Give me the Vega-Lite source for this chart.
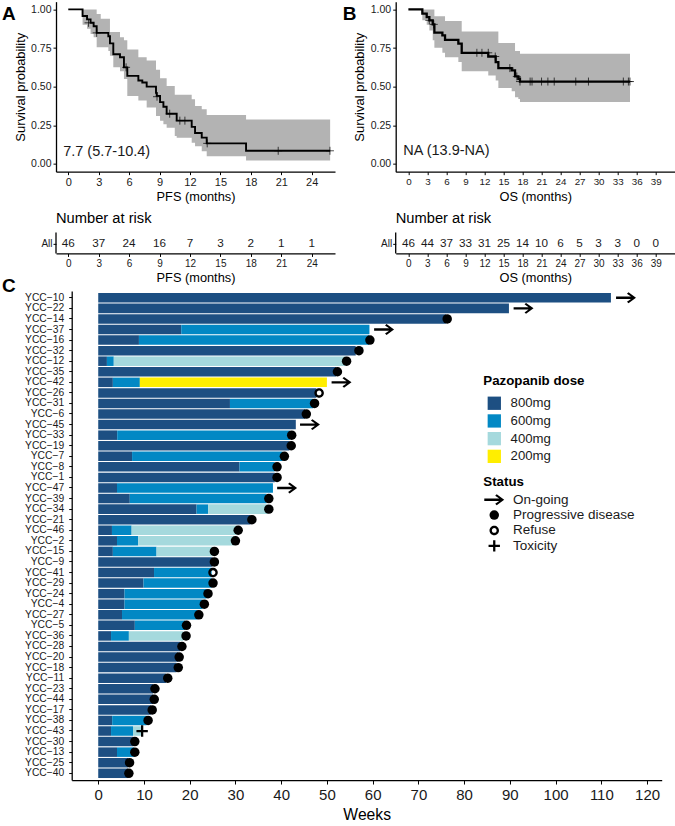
{
  "$schema": "https://vega.github.io/schema/vega-lite/v6.json",
  "padding": {"left": 2, "top": 1.65, "right": 0, "bottom": 0},
  "columns": 2,
  "align": "none",
  "bounds": "flush",
  "spacing": {"column": 60.7, "row": 37.2},
  "config": {
    "font": "Liberation Sans",
    "view": {"stroke": null},
    "axis": {"grid": false, "labelOverlap": false, "tickCount": 100, "domainColor": "black", "domainWidth": 1.3, "tickColor": "black", "tickSize": 3, "tickWidth": 1, "labelColor": "#1a1a1a", "titleColor": "black", "titleFontWeight": "normal", "labelFontSize": 10.5, "titleFontSize": 12.8},
    "title": {"offset": 0, "color": "black"},
    "legend": {"titleFontSize": 13.3, "titleFontWeight": "bold", "labelFontSize": 13.5, "titleColor": "black", "labelColor": "#1a1a1a"}
  },
  "concat": [
    {
      "width": 279,
      "height": 170,
      "title": {"text": "A", "anchor": "start", "frame": "group", "dx": -54, "dy": 26, "fontSize": 19, "fontWeight": "bold"},
      "layer": [
        {
          "data": {"name": "pfs"},
          "mark": {"type": "area", "interpolate": "step-after", "color": "#b3b3b3"},
          "encoding": {
            "x": {"field": "t", "type": "quantitative", "title": "PFS (months)", "scale": {"domain": [-1.21, 26.3], "nice": false, "zero": false}, "axis": {"values": [0, 3, 6, 9, 12, 15, 18, 21, 24], "format": "d", "labelFontSize": 11, "titlePadding": 3}},
            "y": {"field": "lo", "type": "quantitative", "title": "Survival probability", "scale": {"domain": [-0.05, 1.05], "nice": false, "zero": false}, "axis": {"values": [0, 0.25, 0.5, 0.75, 1], "format": ".2f", "titleFontSize": 13, "titlePadding": 3}},
            "y2": {"field": "hi"}
          }
        },
        {
          "data": {"name": "pfs"},
          "mark": {"type": "line", "interpolate": "step-after", "color": "black", "strokeWidth": 1.9},
          "encoding": {"x": {"field": "t", "type": "quantitative"}, "y": {"field": "s", "type": "quantitative"}}
        },
        {
          "data": {"values": [{"t": 2.0, "s": 0.913}, {"t": 2.8, "s": 0.848}, {"t": 5.7, "s": 0.625}, {"t": 8.75, "s": 0.435}, {"t": 10, "s": 0.325}, {"t": 11, "s": 0.28}, {"t": 11.5, "s": 0.28}, {"t": 13.7, "s": 0.133}, {"t": 20.7, "s": 0.085}, {"t": 25.8, "s": 0.085}]},
          "mark": {"type": "point", "shape": "M-1,0H1M0,-1V1", "size": 64, "stroke": "black", "strokeWidth": 1, "fill": null},
          "encoding": {"x": {"field": "t", "type": "quantitative"}, "y": {"field": "s", "type": "quantitative"}}
        },
        {
          "data": {"values": [{"t": -0.5, "s": 0.08, "label": "7.7 (5.7-10.4)"}]},
          "mark": {"type": "text", "align": "left", "baseline": "middle", "fontSize": 14.5, "color": "#1a1a1a"},
          "encoding": {"x": {"field": "t", "type": "quantitative"}, "y": {"field": "s", "type": "quantitative"}, "text": {"field": "label"}}
        }
      ]
    },
    {
      "width": 279,
      "height": 170,
      "title": {"text": "B", "anchor": "start", "frame": "group", "dx": -53, "dy": 26, "fontSize": 19, "fontWeight": "bold"},
      "layer": [
        {
          "data": {"name": "os"},
          "mark": {"type": "area", "interpolate": "step-after", "color": "#b3b3b3"},
          "encoding": {
            "x": {"field": "t", "type": "quantitative", "title": "OS (months)", "scale": {"domain": [-2, 42], "nice": false, "zero": false}, "axis": {"values": [0, 3, 6, 9, 12, 15, 18, 21, 24, 27, 30, 33, 36, 39], "format": "d", "labelFontSize": 9.8, "titlePadding": 4}},
            "y": {"field": "lo", "type": "quantitative", "title": "Survival probability", "scale": {"domain": [-0.05, 1.05], "nice": false, "zero": false}, "axis": {"values": [0, 0.25, 0.5, 0.75, 1], "format": ".2f", "titleFontSize": 13, "titlePadding": 4}},
            "y2": {"field": "hi"}
          }
        },
        {
          "data": {"name": "os"},
          "mark": {"type": "line", "interpolate": "step-after", "color": "black", "strokeWidth": 2.3},
          "encoding": {"x": {"field": "t", "type": "quantitative"}, "y": {"field": "s", "type": "quantitative"}}
        },
        {
          "data": {"values": [{"t": 3.3, "s": 0.929}, {"t": 4.0, "s": 0.903}, {"t": 10.8, "s": 0.719}, {"t": 11.6, "s": 0.719}, {"t": 12.6, "s": 0.719}, {"t": 13.7, "s": 0.695}, {"t": 16, "s": 0.62}, {"t": 17.1, "s": 0.566}, {"t": 17.6, "s": 0.533}, {"t": 19.2, "s": 0.533}, {"t": 19.5, "s": 0.533}, {"t": 21, "s": 0.533}, {"t": 22, "s": 0.533}, {"t": 23, "s": 0.533}, {"t": 26.4, "s": 0.533}, {"t": 28.4, "s": 0.533}, {"t": 33.9, "s": 0.533}, {"t": 34.7, "s": 0.533}, {"t": 34.95, "s": 0.533}]},
          "mark": {"type": "point", "shape": "M-1,0H1M0,-1V1", "size": 64, "stroke": "black", "strokeWidth": 1, "fill": null},
          "encoding": {"x": {"field": "t", "type": "quantitative"}, "y": {"field": "s", "type": "quantitative"}}
        },
        {
          "data": {"values": [{"t": -0.79, "s": 0.086, "label": "NA (13.9-NA)"}]},
          "mark": {"type": "text", "align": "left", "baseline": "middle", "fontSize": 14.5, "color": "#1a1a1a"},
          "encoding": {"x": {"field": "t", "type": "quantitative"}, "y": {"field": "s", "type": "quantitative"}, "text": {"field": "label"}}
        }
      ]
    },
    {
      "width": 279,
      "height": 44.6,
      "title": {"text": "Number at risk", "anchor": "start", "frame": "group", "fontSize": 14.7, "fontWeight": "normal", "dy": 21},
      "layer": [
        {
          "data": {"values": [{"t": 0, "n": 46}, {"t": 3, "n": 37}, {"t": 6, "n": 24}, {"t": 9, "n": 16}, {"t": 12, "n": 7}, {"t": 15, "n": 3}, {"t": 18, "n": 2}, {"t": 21, "n": 1}, {"t": 24, "n": 1}]},
          "mark": {"type": "text", "fontSize": 11.7, "baseline": "middle", "color": "#1a1a1a"},
          "encoding": {
            "x": {"field": "t", "type": "quantitative", "title": "PFS (months)", "scale": {"domain": [-1.21, 26.3], "nice": false, "zero": false}, "axis": {"values": [0, 3, 6, 9, 12, 15, 18, 21, 24], "format": "d", "labelFontSize": 10, "titlePadding": 3}},
            "y": {"datum": 10, "type": "quantitative", "title": null, "scale": {"domain": [0, 44.6], "nice": false, "zero": false}, "axis": {"values": [10], "labelExpr": "'All'", "domain": false, "labelFontSize": 10, "labelPadding": 1}},
            "text": {"field": "n"}
          }
        },
        {
          "data": {"values": [{"t": -1.21, "y0": 0, "y1": 21}]},
          "mark": {"type": "rule", "color": "black", "strokeWidth": 1.3},
          "encoding": {"x": {"field": "t", "type": "quantitative"}, "y": {"field": "y0", "type": "quantitative", "title": null}, "y2": {"field": "y1"}}
        }
      ]
    },
    {
      "width": 279,
      "height": 44.6,
      "title": {"text": "Number at risk", "anchor": "start", "frame": "group", "fontSize": 14.7, "fontWeight": "normal", "dy": 21},
      "layer": [
        {
          "data": {"values": [{"t": 0, "n": 46}, {"t": 3, "n": 44}, {"t": 6, "n": 37}, {"t": 9, "n": 33}, {"t": 12, "n": 31}, {"t": 15, "n": 25}, {"t": 18, "n": 14}, {"t": 21, "n": 10}, {"t": 24, "n": 6}, {"t": 27, "n": 5}, {"t": 30, "n": 3}, {"t": 33, "n": 3}, {"t": 36, "n": 0}, {"t": 39, "n": 0}]},
          "mark": {"type": "text", "fontSize": 11.7, "baseline": "middle", "color": "#1a1a1a"},
          "encoding": {
            "x": {"field": "t", "type": "quantitative", "title": "OS (months)", "scale": {"domain": [-2, 42], "nice": false, "zero": false}, "axis": {"values": [0, 3, 6, 9, 12, 15, 18, 21, 24, 27, 30, 33, 36, 39], "format": "d", "labelFontSize": 10, "titlePadding": 3}},
            "y": {"datum": 10, "type": "quantitative", "title": null, "scale": {"domain": [0, 44.6], "nice": false, "zero": false}, "axis": {"values": [10], "labelExpr": "'All'", "domain": false, "labelFontSize": 10, "labelPadding": 1}},
            "text": {"field": "n"}
          }
        },
        {
          "data": {"values": [{"t": -2, "y0": 0, "y1": 21}]},
          "mark": {"type": "rule", "color": "black", "strokeWidth": 1.3},
          "encoding": {"x": {"field": "t", "type": "quantitative"}, "y": {"field": "y0", "type": "quantitative", "title": null}, "y2": {"field": "y1"}}
        }
      ]
    },
    {
      "width": 279,
      "height": 489,
      "title": {"text": "C", "anchor": "start", "frame": "group", "dx": -54, "dy": 9, "fontSize": 19, "fontWeight": "bold"},
      "encoding": {
        "y": {
          "field": "id",
          "type": "nominal",
          "title": null,
          "scale": {
            "domain": ["YCC−10", "YCC−22", "YCC−14", "YCC−37", "YCC−16", "YCC−32", "YCC−12", "YCC−35", "YCC−42", "YCC−26", "YCC−31", "YCC−6", "YCC−45", "YCC−33", "YCC−19", "YCC−7", "YCC−8", "YCC−1", "YCC−47", "YCC−39", "YCC−34", "YCC−21", "YCC−46", "YCC−2", "YCC−15", "YCC−9", "YCC−41", "YCC−29", "YCC−24", "YCC−4", "YCC−27", "YCC−5", "YCC−36", "YCC−28", "YCC−20", "YCC−18", "YCC−11", "YCC−23", "YCC−44", "YCC−17", "YCC−38", "YCC−43", "YCC−30", "YCC−13", "YCC−25", "YCC−40"],
            "paddingInner": 0.1,
            "paddingOuter": 0.19
          },
          "axis": {"labelFontSize": 10.3, "labelPadding": 5, "offset": -15.7}
        }
      },
      "layer": [
        {
          "data": {"name": "bars"},
          "mark": {"type": "bar"},
          "encoding": {
            "x": {"field": "start", "type": "quantitative", "title": "Weeks", "scale": {"domain": [-5.8, 123.2], "nice": false, "zero": false, "range": [15.7, 605.7]}, "axis": {"values": [0, 10, 20, 30, 40, 50, 60, 70, 80, 90, 100, 110, 120], "format": "d", "labelFontSize": 15, "titleFontSize": 15.7, "tickSize": 4, "labelPadding": 3, "titlePadding": 5}},
            "x2": {"field": "end"},
            "color": {
              "field": "dose",
              "type": "nominal",
              "scale": {"domain": ["800mg", "600mg", "400mg", "200mg"], "range": ["#1d4f82", "#0288c4", "#a5d9dd", "#ffee00"]},
              "legend": {"orient": "none", "legendX": 427.3, "legendY": 372.7, "title": "Pazopanib dose", "symbolType": "square", "symbolSize": 177, "symbolOpacity": 1, "symbolStrokeWidth": 0, "symbolOffset": 4, "labelOffset": 9.3, "rowPadding": 3.7, "titlePadding": 8.6, "labelFontSize": 13.2}
            }
          }
        },
        {
          "data": {"name": "ends"},
          "mark": {"type": "point", "filled": true, "color": "black", "size": 90, "opacity": 1},
          "encoding": {
            "x": {"field": "week", "type": "quantitative"},
            "shape": {
              "field": "status",
              "type": "nominal",
              "scale": {
                "domain": ["On-going", "Progressive disease", "Refuse", "Toxicity"],
                "range": [
                  "M-2.1,-0.25H1.05L0.2,-0.85L0.52,-1.15L2.1,0L0.52,1.15L0.2,0.85L1.05,0.25H-2.1Z",
                  "circle",
                  "M-1,0A1,1 0 1,1 1,0A1,1 0 1,1 -1,0ZM-0.5,0A0.5,0.5 0 1,0 0.5,0A0.5,0.5 0 1,0 -0.5,0Z",
                  "M-0.24,-1.2H0.24V-0.24H1.2V0.24H0.24V1.2H-0.24V0.24H-1.2V-0.24H-0.24Z"
                ]
              },
              "legend": {"orient": "none", "legendX": 427.3, "legendY": 473, "title": "Status", "symbolSize": 90, "symbolFillColor": "black", "symbolStrokeWidth": 0, "symbolOpacity": 1, "symbolOffset": 4.2, "labelOffset": 12, "rowPadding": 0.4, "titlePadding": 5}
            }
          }
        }
      ]
    }
  ],
  "datasets": {
    "pfs": [
      {"t": 0, "s": 1, "lo": 1, "hi": 1},
      {"t": 1.41, "s": 0.957, "lo": 0.9, "hi": 1},
      {"t": 1.85, "s": 0.935, "lo": 0.875, "hi": 1},
      {"t": 2.2, "s": 0.913, "lo": 0.84, "hi": 1},
      {"t": 2.5, "s": 0.891, "lo": 0.82, "hi": 1},
      {"t": 2.8, "s": 0.848, "lo": 0.755, "hi": 0.97},
      {"t": 3.2, "s": 0.848, "lo": 0.755, "hi": 0.94},
      {"t": 3.95, "s": 0.826, "lo": 0.73, "hi": 0.94},
      {"t": 4.11, "s": 0.78, "lo": 0.7, "hi": 0.853},
      {"t": 4.44, "s": 0.71, "lo": 0.625, "hi": 0.853},
      {"t": 5.1, "s": 0.69, "lo": 0.6, "hi": 0.82},
      {"t": 5.49, "s": 0.625, "lo": 0.55, "hi": 0.8},
      {"t": 5.82, "s": 0.57, "lo": 0.44, "hi": 0.74},
      {"t": 6.91, "s": 0.54, "lo": 0.41, "hi": 0.69},
      {"t": 7.3, "s": 0.527, "lo": 0.41, "hi": 0.69},
      {"t": 7.73, "s": 0.5, "lo": 0.365, "hi": 0.67},
      {"t": 8.65, "s": 0.46, "lo": 0.31, "hi": 0.61},
      {"t": 8.72, "s": 0.44, "lo": 0.31, "hi": 0.61},
      {"t": 9.05, "s": 0.4, "lo": 0.28, "hi": 0.555},
      {"t": 9.38, "s": 0.37, "lo": 0.256, "hi": 0.555},
      {"t": 9.7, "s": 0.325, "lo": 0.234, "hi": 0.505},
      {"t": 10.5, "s": 0.325, "lo": 0.18, "hi": 0.447},
      {"t": 10.69, "s": 0.28, "lo": 0.17, "hi": 0.447},
      {"t": 12.17, "s": 0.24, "lo": 0.137, "hi": 0.419},
      {"t": 12.5, "s": 0.2, "lo": 0.115, "hi": 0.375},
      {"t": 13.16, "s": 0.17, "lo": 0.082, "hi": 0.354},
      {"t": 13.65, "s": 0.133, "lo": 0.05, "hi": 0.317},
      {"t": 17.53, "s": 0.085, "lo": 0.022, "hi": 0.288},
      {"t": 25.82, "s": 0.085, "lo": 0.022, "hi": 0.288}
    ],
    "os": [
      {"t": 0, "s": 1, "lo": 1, "hi": 1},
      {"t": 2.2, "s": 0.972, "lo": 0.93, "hi": 1},
      {"t": 2.89, "s": 0.95, "lo": 0.9, "hi": 1},
      {"t": 3.31, "s": 0.929, "lo": 0.864, "hi": 1},
      {"t": 3.84, "s": 0.903, "lo": 0.8, "hi": 1},
      {"t": 4.1, "s": 0.849, "lo": 0.752, "hi": 0.955},
      {"t": 5.36, "s": 0.832, "lo": 0.719, "hi": 0.955},
      {"t": 5.78, "s": 0.803, "lo": 0.691, "hi": 0.924},
      {"t": 7.88, "s": 0.778, "lo": 0.66, "hi": 0.924},
      {"t": 8.41, "s": 0.719, "lo": 0.6, "hi": 0.857},
      {"t": 12.6, "s": 0.695, "lo": 0.572, "hi": 0.857},
      {"t": 13.77, "s": 0.659, "lo": 0.54, "hi": 0.857},
      {"t": 14.19, "s": 0.62, "lo": 0.492, "hi": 0.782},
      {"t": 16.29, "s": 0.605, "lo": 0.47, "hi": 0.782},
      {"t": 16.82, "s": 0.566, "lo": 0.432, "hi": 0.73},
      {"t": 17.34, "s": 0.551, "lo": 0.42, "hi": 0.73},
      {"t": 17.6, "s": 0.533, "lo": 0.4, "hi": 0.713},
      {"t": 34.95, "s": 0.533, "lo": 0.4, "hi": 0.713}
    ],
    "bars": [
      {"id": "YCC−10", "dose": "800mg", "start": 0, "end": 112.1},
      {"id": "YCC−22", "dose": "800mg", "start": 0, "end": 89.8},
      {"id": "YCC−14", "dose": "800mg", "start": 0, "end": 76},
      {"id": "YCC−37", "dose": "800mg", "start": 0, "end": 18.15},
      {"id": "YCC−37", "dose": "600mg", "start": 18.15, "end": 59.3},
      {"id": "YCC−16", "dose": "800mg", "start": 0, "end": 8.9},
      {"id": "YCC−16", "dose": "600mg", "start": 8.9, "end": 59.2},
      {"id": "YCC−32", "dose": "800mg", "start": 0, "end": 56.3},
      {"id": "YCC−12", "dose": "800mg", "start": 0, "end": 1.9},
      {"id": "YCC−12", "dose": "600mg", "start": 1.9, "end": 3.4},
      {"id": "YCC−12", "dose": "400mg", "start": 3.4, "end": 54},
      {"id": "YCC−35", "dose": "800mg", "start": 0, "end": 52},
      {"id": "YCC−42", "dose": "800mg", "start": 0, "end": 3.2},
      {"id": "YCC−42", "dose": "600mg", "start": 3.2, "end": 9.1},
      {"id": "YCC−42", "dose": "200mg", "start": 9.1, "end": 50},
      {"id": "YCC−26", "dose": "800mg", "start": 0, "end": 47.7},
      {"id": "YCC−31", "dose": "800mg", "start": 0, "end": 28.8},
      {"id": "YCC−31", "dose": "600mg", "start": 28.8, "end": 47},
      {"id": "YCC−6", "dose": "800mg", "start": 0, "end": 45.2},
      {"id": "YCC−45", "dose": "800mg", "start": 0, "end": 43.2},
      {"id": "YCC−33", "dose": "800mg", "start": 0, "end": 4.15},
      {"id": "YCC−33", "dose": "600mg", "start": 4.15, "end": 41.9},
      {"id": "YCC−19", "dose": "800mg", "start": 0, "end": 41.8},
      {"id": "YCC−7", "dose": "800mg", "start": 0, "end": 7.4},
      {"id": "YCC−7", "dose": "600mg", "start": 7.4, "end": 40.3},
      {"id": "YCC−8", "dose": "800mg", "start": 0, "end": 30.9},
      {"id": "YCC−8", "dose": "600mg", "start": 30.9, "end": 38.6},
      {"id": "YCC−1", "dose": "800mg", "start": 0, "end": 38.6},
      {"id": "YCC−47", "dose": "800mg", "start": 0, "end": 4.1},
      {"id": "YCC−47", "dose": "600mg", "start": 4.1, "end": 38.2},
      {"id": "YCC−39", "dose": "800mg", "start": 0, "end": 6.9},
      {"id": "YCC−39", "dose": "600mg", "start": 6.9, "end": 36.8},
      {"id": "YCC−34", "dose": "800mg", "start": 0, "end": 21.5},
      {"id": "YCC−34", "dose": "600mg", "start": 21.5, "end": 24.05},
      {"id": "YCC−34", "dose": "400mg", "start": 24.05, "end": 37},
      {"id": "YCC−21", "dose": "800mg", "start": 0, "end": 33.3},
      {"id": "YCC−46", "dose": "800mg", "start": 0, "end": 3},
      {"id": "YCC−46", "dose": "600mg", "start": 3, "end": 7.3},
      {"id": "YCC−46", "dose": "400mg", "start": 7.3, "end": 30.2},
      {"id": "YCC−2", "dose": "800mg", "start": 0, "end": 4.1},
      {"id": "YCC−2", "dose": "600mg", "start": 4.1, "end": 8.75},
      {"id": "YCC−2", "dose": "400mg", "start": 8.75, "end": 29.7},
      {"id": "YCC−15", "dose": "800mg", "start": 0, "end": 3.2},
      {"id": "YCC−15", "dose": "600mg", "start": 3.2, "end": 12.75},
      {"id": "YCC−15", "dose": "400mg", "start": 12.75, "end": 25},
      {"id": "YCC−9", "dose": "800mg", "start": 0, "end": 25},
      {"id": "YCC−41", "dose": "800mg", "start": 0, "end": 12.2},
      {"id": "YCC−41", "dose": "600mg", "start": 12.2, "end": 24.8},
      {"id": "YCC−29", "dose": "800mg", "start": 0, "end": 9.9},
      {"id": "YCC−29", "dose": "600mg", "start": 9.9, "end": 24.8},
      {"id": "YCC−24", "dose": "800mg", "start": 0, "end": 5.75},
      {"id": "YCC−24", "dose": "600mg", "start": 5.75, "end": 23.7},
      {"id": "YCC−4", "dose": "800mg", "start": 0, "end": 5.75},
      {"id": "YCC−4", "dose": "600mg", "start": 5.75, "end": 22.8},
      {"id": "YCC−27", "dose": "800mg", "start": 0, "end": 5.2},
      {"id": "YCC−27", "dose": "600mg", "start": 5.2, "end": 21.7},
      {"id": "YCC−5", "dose": "800mg", "start": 0, "end": 8},
      {"id": "YCC−5", "dose": "600mg", "start": 8, "end": 19},
      {"id": "YCC−36", "dose": "800mg", "start": 0, "end": 2.8},
      {"id": "YCC−36", "dose": "600mg", "start": 2.8, "end": 6.7},
      {"id": "YCC−36", "dose": "400mg", "start": 6.7, "end": 18.6},
      {"id": "YCC−28", "dose": "800mg", "start": 0, "end": 17.9},
      {"id": "YCC−20", "dose": "800mg", "start": 0, "end": 17.5},
      {"id": "YCC−18", "dose": "800mg", "start": 0, "end": 17.1},
      {"id": "YCC−11", "dose": "800mg", "start": 0, "end": 14.8},
      {"id": "YCC−23", "dose": "800mg", "start": 0, "end": 12},
      {"id": "YCC−44", "dose": "800mg", "start": 0, "end": 12},
      {"id": "YCC−17", "dose": "800mg", "start": 0, "end": 11.5},
      {"id": "YCC−38", "dose": "800mg", "start": 0, "end": 3.05},
      {"id": "YCC−38", "dose": "600mg", "start": 3.05, "end": 10.6},
      {"id": "YCC−43", "dose": "800mg", "start": 0, "end": 2.8},
      {"id": "YCC−43", "dose": "600mg", "start": 2.8, "end": 7.6},
      {"id": "YCC−43", "dose": "400mg", "start": 7.6, "end": 9.5},
      {"id": "YCC−30", "dose": "800mg", "start": 0, "end": 7.65},
      {"id": "YCC−13", "dose": "800mg", "start": 0, "end": 4.1},
      {"id": "YCC−13", "dose": "600mg", "start": 4.1, "end": 7.8},
      {"id": "YCC−25", "dose": "800mg", "start": 0, "end": 6.55},
      {"id": "YCC−40", "dose": "800mg", "start": 0, "end": 6.5}
    ],
    "ends": [
      {"id": "YCC−10", "status": "On-going", "week": 115.4},
      {"id": "YCC−22", "status": "On-going", "week": 93},
      {"id": "YCC−14", "status": "Progressive disease", "week": 76.3},
      {"id": "YCC−37", "status": "On-going", "week": 62.5},
      {"id": "YCC−16", "status": "Progressive disease", "week": 59.4},
      {"id": "YCC−32", "status": "Progressive disease", "week": 57},
      {"id": "YCC−12", "status": "Progressive disease", "week": 54.3},
      {"id": "YCC−35", "status": "Progressive disease", "week": 52.3},
      {"id": "YCC−42", "status": "On-going", "week": 53.2},
      {"id": "YCC−26", "status": "Refuse", "week": 48.3},
      {"id": "YCC−31", "status": "Progressive disease", "week": 47.3},
      {"id": "YCC−6", "status": "Progressive disease", "week": 45.5},
      {"id": "YCC−45", "status": "On-going", "week": 46.3},
      {"id": "YCC−33", "status": "Progressive disease", "week": 42.3},
      {"id": "YCC−19", "status": "Progressive disease", "week": 42.2},
      {"id": "YCC−7", "status": "Progressive disease", "week": 40.7},
      {"id": "YCC−8", "status": "Progressive disease", "week": 39.1},
      {"id": "YCC−1", "status": "Progressive disease", "week": 39.1},
      {"id": "YCC−47", "status": "On-going", "week": 41.3},
      {"id": "YCC−39", "status": "Progressive disease", "week": 37.3},
      {"id": "YCC−34", "status": "Progressive disease", "week": 37.3},
      {"id": "YCC−21", "status": "Progressive disease", "week": 33.6},
      {"id": "YCC−46", "status": "Progressive disease", "week": 30.6},
      {"id": "YCC−2", "status": "Progressive disease", "week": 30},
      {"id": "YCC−15", "status": "Progressive disease", "week": 25.4},
      {"id": "YCC−9", "status": "Progressive disease", "week": 25.4},
      {"id": "YCC−41", "status": "Refuse", "week": 25.1},
      {"id": "YCC−29", "status": "Progressive disease", "week": 25.1},
      {"id": "YCC−24", "status": "Progressive disease", "week": 24},
      {"id": "YCC−4", "status": "Progressive disease", "week": 23.2},
      {"id": "YCC−27", "status": "Progressive disease", "week": 22},
      {"id": "YCC−5", "status": "Progressive disease", "week": 19.3},
      {"id": "YCC−36", "status": "Progressive disease", "week": 19.2},
      {"id": "YCC−28", "status": "Progressive disease", "week": 18.3},
      {"id": "YCC−20", "status": "Progressive disease", "week": 17.7},
      {"id": "YCC−18", "status": "Progressive disease", "week": 17.5},
      {"id": "YCC−11", "status": "Progressive disease", "week": 15.2},
      {"id": "YCC−23", "status": "Progressive disease", "week": 12.4},
      {"id": "YCC−44", "status": "Progressive disease", "week": 12.25},
      {"id": "YCC−17", "status": "Progressive disease", "week": 11.8},
      {"id": "YCC−38", "status": "Progressive disease", "week": 10.9},
      {"id": "YCC−43", "status": "Toxicity", "week": 9.6},
      {"id": "YCC−30", "status": "Progressive disease", "week": 8},
      {"id": "YCC−13", "status": "Progressive disease", "week": 8},
      {"id": "YCC−25", "status": "Progressive disease", "week": 6.85},
      {"id": "YCC−40", "status": "Progressive disease", "week": 6.7}
    ]
  }
}
